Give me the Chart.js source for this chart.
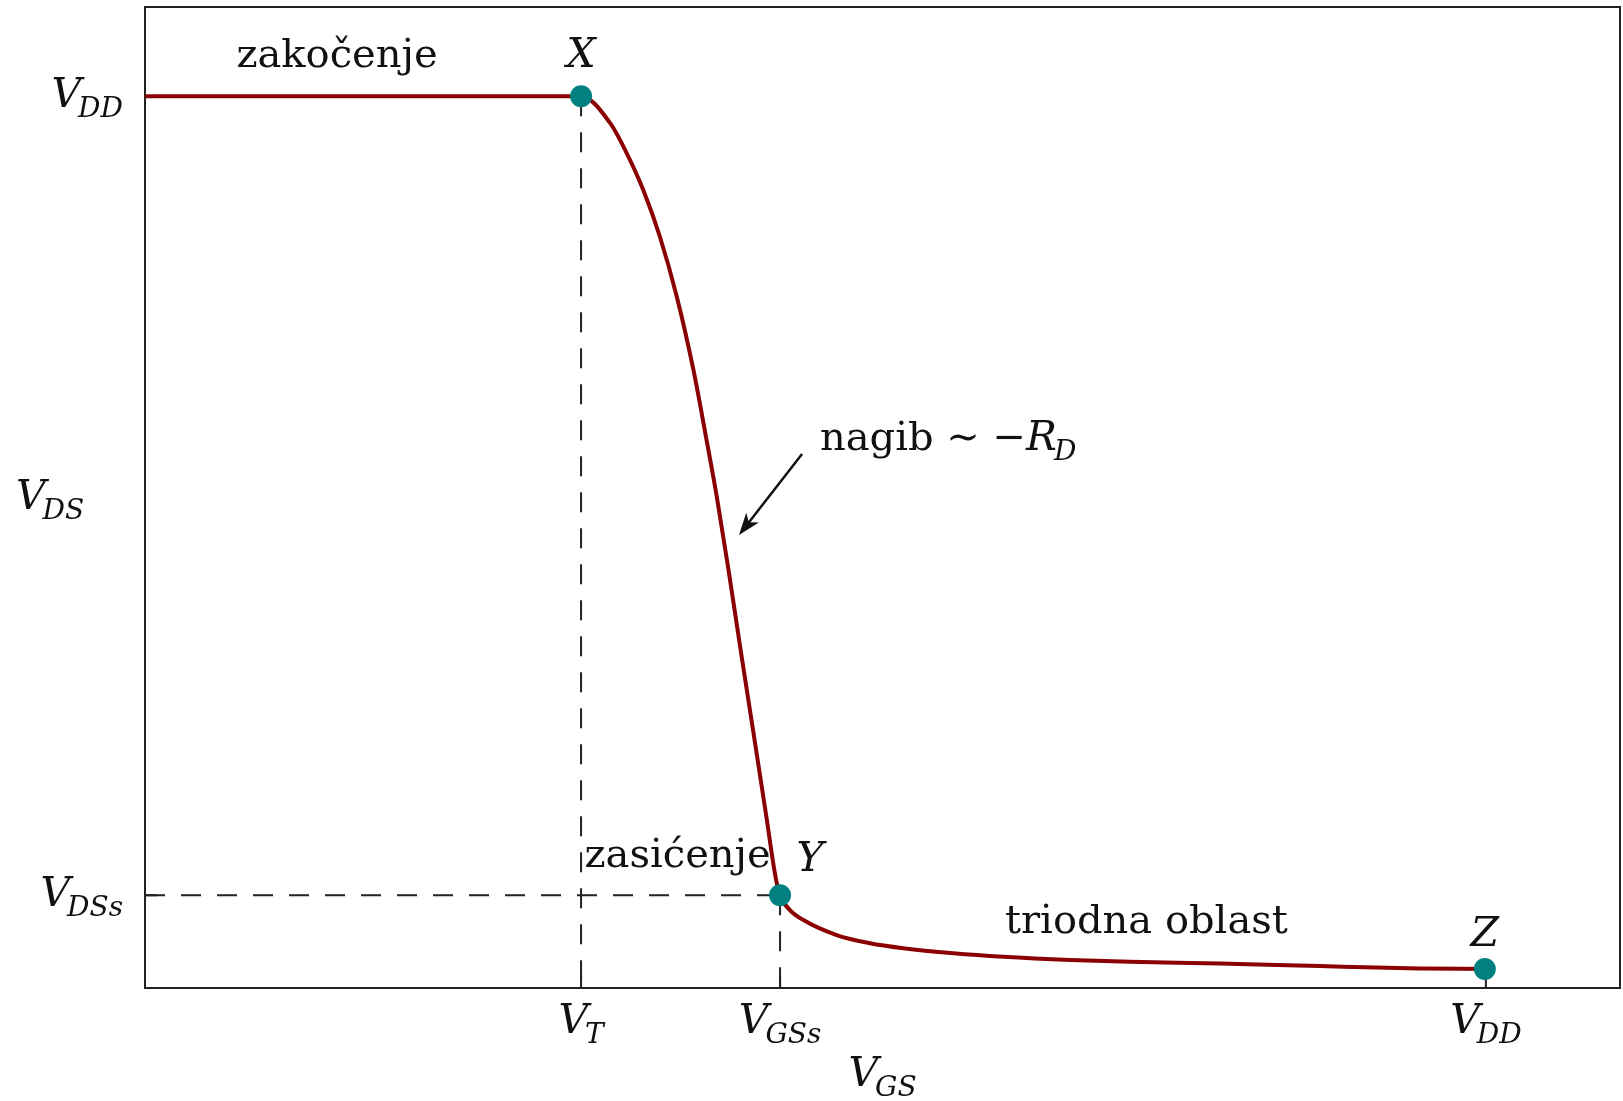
<!DOCTYPE html>
<html>
<head>
<meta charset="utf-8">
<script src="https://cdn.jsdelivr.net/npm/chart.js@4.4.0/dist/chart.umd.min.js"></script>
<style>
  html, body { margin: 0; padding: 0; background: #ffffff; }
  #wrap { width: 1623px; height: 1101px; }
</style>
</head>
<body>
<div id="wrap"><canvas id="vtcChart" width="1623" height="1101"></canvas></div>
<script>
// karakteristicne tacke (VGS, VDS)
const vDD = 5.0;
const vT = 1.626;
const vGSs = 2.368;
const vDSs = 0.52;

// prenosna karakteristika ocitana sa slike
const vgsCurve = [0, 1.626, 1.734, 1.796, 1.858, 1.920, 1.983, 2.045, 2.094, 2.132, 2.174, 2.221, 2.269, 2.317, 2.351, 2.368,
  2.405, 2.455, 2.579, 2.703, 2.828, 3.014, 3.200, 3.449, 3.673, 4.008, 4.381, 4.754, 4.996];
const vdsCurve = [5.0, 5.0, 4.85, 4.681, 4.474, 4.212, 3.876, 3.465, 3.072, 2.755, 2.362, 1.895, 1.430, 0.960, 0.624, 0.52,
  0.437, 0.381, 0.297, 0.251, 0.223, 0.195, 0.175, 0.157, 0.147, 0.138, 0.123, 0.110, 0.107];

// tacke X, Y, Z
const pointNames = ['X', 'Y', 'Z'];
const pointVgs = [1.626, 2.368, 4.996];
const pointVds = [5.0, 0.52, 0.107];

// oznake na osama
const xTickValues = [vT, vGSs, vDD];
const xTickSubs = ['T', 'GSs', 'DD'];
const yTickValues = [vDSs, vDD];
const yTickSubs = ['DSs', 'DD'];

const SERIF = '"DejaVu Serif", "Liberation Serif", serif';

function drawMath(ctx, base, sub, x, y, align) {
  ctx.font = 'italic 41px ' + SERIF;
  const w1 = ctx.measureText(base).width;
  ctx.font = 'italic 28px ' + SERIF;
  const w2 = ctx.measureText(sub).width;
  const total = w1 + w2 - 3;
  let x0 = x;
  if (align === 'center') x0 = x - total / 2;
  if (align === 'right') x0 = x - total;
  ctx.textAlign = 'left';
  ctx.textBaseline = 'alphabetic';
  ctx.font = 'italic 41px ' + SERIF;
  ctx.fillText(base, x0, y);
  ctx.font = 'italic 28px ' + SERIF;
  ctx.fillText(sub, x0 + w1 - 3, y + 10);
  return x0 + total;
}

const annotations = {
  id: 'annotations',
  beforeDatasetsDraw(chart) {
    const { ctx, chartArea: a, scales: { x, y } } = chart;
    ctx.save();
    // isprekidane linije
    ctx.strokeStyle = '#222';
    ctx.lineWidth = 2;
    ctx.setLineDash([20, 16]);
    ctx.beginPath();
    ctx.moveTo(x.getPixelForValue(vT), y.getPixelForValue(vDD));
    ctx.lineTo(x.getPixelForValue(vT), a.bottom);
    ctx.moveTo(x.getPixelForValue(vGSs), y.getPixelForValue(vDSs));
    ctx.lineTo(x.getPixelForValue(vGSs), a.bottom);
    ctx.moveTo(a.left, y.getPixelForValue(vDSs));
    ctx.lineTo(x.getPixelForValue(vGSs), y.getPixelForValue(vDSs));
    ctx.stroke();
    ctx.setLineDash([]);
    // crtice na osama (prema unutra)
    ctx.beginPath();
    xTickValues.forEach(v => {
      const px = x.getPixelForValue(v);
      ctx.moveTo(px, a.bottom);
      ctx.lineTo(px, a.bottom - 12);
    });
    yTickValues.forEach(v => {
      const py = y.getPixelForValue(v);
      ctx.moveTo(a.left, py);
      ctx.lineTo(a.left + 12, py);
    });
    ctx.stroke();
    // okvir
    ctx.strokeRect(a.left, a.top, a.right - a.left, a.bottom - a.top);
    ctx.restore();
  },
  afterDraw(chart) {
    const { ctx, chartArea: a, scales: { x, y } } = chart;
    ctx.save();
    ctx.fillStyle = '#111';
    ctx.strokeStyle = '#111';

    // oznake na x osi
    xTickValues.forEach((v, i) => {
      drawMath(ctx, 'V', xTickSubs[i], x.getPixelForValue(v), a.bottom + 45, 'center');
    });
    // oznake na y osi
    yTickValues.forEach((v, i) => {
      drawMath(ctx, 'V', yTickSubs[i], a.left - 22, y.getPixelForValue(v) + 11, 'right');
    });
    // nazivi osa
    drawMath(ctx, 'V', 'GS', (a.left + a.right) / 2, a.bottom + 98, 'center');
    drawMath(ctx, 'V', 'DS', 16, (a.top + a.bottom) / 2 + 11, 'left');

    // nazivi tacaka
    ctx.font = 'italic 41px ' + SERIF;
    ctx.textAlign = 'center';
    ctx.textBaseline = 'alphabetic';
    ctx.fillText(pointNames[0], x.getPixelForValue(pointVgs[0]), y.getPixelForValue(pointVds[0]) - 29);
    ctx.fillText(pointNames[1], x.getPixelForValue(pointVgs[1]) + 30, y.getPixelForValue(pointVds[1]) - 24);
    ctx.fillText(pointNames[2], x.getPixelForValue(pointVgs[2]), y.getPixelForValue(pointVds[2]) - 23);

    // oblasti rada
    ctx.font = '40px ' + SERIF;
    ctx.fillText('zakočenje', x.getPixelForValue(0.716), y.getPixelForValue(5.164));
    ctx.fillText('zasićenje', x.getPixelForValue(1.986), y.getPixelForValue(0.678));
    ctx.fillText('triodna oblast', x.getPixelForValue(3.734), y.getPixelForValue(0.31));

    // nagib
    ctx.textAlign = 'left';
    const nx = x.getPixelForValue(2.517);
    const ny = y.getPixelForValue(3.016);
    const pre = 'nagib ∼ −';
    ctx.fillText(pre, nx, ny);
    const pw = ctx.measureText(pre).width;
    drawMath(ctx, 'R', 'D', nx + pw, ny, 'left');

    // strelica
    const x1 = x.getPixelForValue(2.450), y1 = y.getPixelForValue(2.994);
    const x2 = x.getPixelForValue(2.215), y2 = y.getPixelForValue(2.540);
    const ang = Math.atan2(y2 - y1, x2 - x1);
    ctx.lineWidth = 2.5;
    ctx.beginPath();
    ctx.moveTo(x1, y1);
    ctx.lineTo(x2 - 14 * Math.cos(ang), y2 - 14 * Math.sin(ang));
    ctx.stroke();
    ctx.beginPath();
    ctx.moveTo(x2, y2);
    ctx.lineTo(x2 - 22 * Math.cos(ang) + 8 * Math.sin(ang), y2 - 22 * Math.sin(ang) - 8 * Math.cos(ang));
    ctx.lineTo(x2 - 16 * Math.cos(ang), y2 - 16 * Math.sin(ang));
    ctx.lineTo(x2 - 22 * Math.cos(ang) - 8 * Math.sin(ang), y2 - 22 * Math.sin(ang) + 8 * Math.cos(ang));
    ctx.closePath();
    ctx.fill();
    ctx.restore();
  }
};

const ctx = document.getElementById('vtcChart').getContext('2d');
new Chart(ctx, {
  type: 'scatter',
  data: {
    datasets: [
      {
        label: 'tacke',
        data: pointVgs.map((v, i) => ({ x: v, y: pointVds[i] })),
        backgroundColor: '#008080',
        borderWidth: 0,
        pointRadius: 11,
        order: 0,
      },
      {
        label: 'VDS(VGS)',
        type: 'line',
        data: vgsCurve.map((v, i) => ({ x: v, y: vdsCurve[i] })),
        borderColor: '#8b0000',
        borderWidth: 4,
        pointRadius: 0,
        fill: false,
        cubicInterpolationMode: 'monotone',
        order: 1,
      },
    ],
  },
  options: {
    responsive: false,
    animation: false,
    layout: { autoPadding: false, padding: { left: 145, right: 3, top: 7, bottom: 113 } },
    scales: {
      x: { type: 'linear', min: 0, max: 5.5, display: false },
      y: { type: 'linear', min: 0, max: 5.5, display: false },
    },
    plugins: {
      legend: { display: false },
      tooltip: { enabled: false },
    },
  },
  plugins: [annotations],
});
</script>
</body>
</html>
